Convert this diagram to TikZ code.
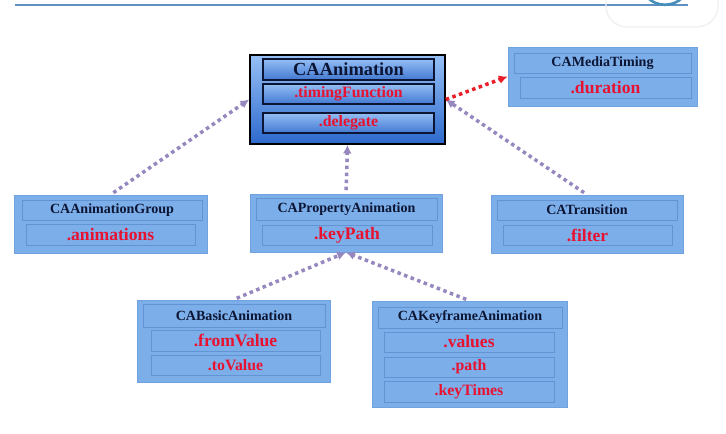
\documentclass[tikz,border=0pt]{standalone}
\usepackage{fontspec}
\setmainfont{Liberation Serif}
\newfontfamily\serifo{Liberation Serif}
\usetikzlibrary{arrows.meta}
\definecolor{BoxBlue}{RGB}{124,174,234}
\definecolor{RowLine}{RGB}{98,148,212}
\definecolor{MainTop}{RGB}{150,192,245}
\definecolor{MainBot}{RGB}{45,105,205}
\definecolor{DeepNavy}{RGB}{12,22,52}
\definecolor{FieldRed}{RGB}{232,18,48}
\definecolor{LinkGray}{RGB}{150,135,190}
\definecolor{LinkRed}{RGB}{232,30,40}
\definecolor{HeadBlue}{RGB}{95,145,195}

\begin{document}
\begin{tikzpicture}[x=0.02cm, y=-0.02cm,
    caja/.style={draw=RowLine!45!BoxBlue, fill=BoxBlue, inner sep=0pt},
    fila/.style={draw=RowLine, fill=BoxBlue, inner sep=0pt},
    principal/.style={draw=black, line width=0.9pt, top color=MainTop, bottom color=MainBot, inner sep=0pt},
    filaP/.style={draw=DeepNavy, line width=0.7pt, top color=MainTop!90!BoxBlue, bottom color=MainBot!90!white, inner sep=0pt},
    titulo/.style={font=\serifo\fontsize{8}{9}\selectfont\bfseries, text=DeepNavy},
    campo/.style={font=\serifo\fontsize{10}{11}\selectfont\bfseries, text=FieldRed},
    campob/.style={font=\serifo\fontsize{9}{10}\selectfont\bfseries, text=FieldRed},
    enlace/.style={LinkGray, line width=2pt, dash pattern=on 2pt off 2pt, shorten <=2pt, -{Latex[length=5pt,width=5pt]}},
    enlaceRojo/.style={LinkRed, line width=2pt, dash pattern=on 2pt off 2pt, -{Latex[length=5pt,width=5pt]}}]
    \useasboundingbox (0,0) rectangle (726,433);

    % Cabecera
    \draw[HeadBlue, line width=1.7pt] (15,5) -- (688,5);
    \draw[gray!12, line width=0.8pt, rounded corners=12pt] (606,-20) -- (606,27) -- (718,27) -- (718,-20);
    \draw[RowLine!70!teal, line width=1.5pt] (648,-2) .. controls (657,7) and (673,7) .. (682,-2);

    % Nodos
    \node[principal, minimum width=3.9cm, minimum height=1.78cm] (anim) at (347.5,99.5) {};
    \node[filaP, minimum width=3.42cm, minimum height=0.42cm, font=\serifo\fontsize{10.5}{12}\selectfont\bfseries, text=DeepNavy] (animT) at (348.5,69.5) {CAAnimation};
    \node[filaP, minimum width=3.42cm, minimum height=0.40cm, campob] (animF) at (348.5,94) {.timingFunction};
    \node[filaP, minimum width=3.42cm, minimum height=0.40cm, campob] (animD) at (348.5,123) {.delegate};

    \node[caja, minimum width=3.78cm, minimum height=1.18cm] (media) at (602.5,76.5) {};
    \node[fila, minimum width=3.54cm, minimum height=0.40cm, titulo] (mediaT) at (602.5,63) {CAMediaTiming};
    \node[fila, minimum width=3.42cm, minimum height=0.42cm, campo] (mediaD) at (605.5,87.5) {.duration};

    \node[caja, minimum width=3.86cm, minimum height=1.16cm] (group) at (110.5,224) {};
    \node[fila, minimum width=3.6cm, minimum height=0.40cm, titulo] (groupT) at (112,210) {CAAnimationGroup};
    \node[fila, minimum width=3.38cm, minimum height=0.42cm, campo] (groupA) at (110.5,234.5) {.animations};

    \node[caja, minimum width=3.84cm, minimum height=1.16cm] (prop) at (346,223) {};
    \node[fila, minimum width=3.62cm, minimum height=0.44cm, titulo] (propT) at (346.5,209) {CAPropertyAnimation};
    \node[fila, minimum width=3.4cm, minimum height=0.40cm, campo] (propK) at (347,235) {.keyPath};

    \node[caja, minimum width=3.84cm, minimum height=1.16cm] (trans) at (587,224) {};
    \node[fila, minimum width=3.6cm, minimum height=0.40cm, titulo] (transT) at (587,210) {CATransition};
    \node[fila, minimum width=3.38cm, minimum height=0.40cm, campo] (transF) at (587.5,235) {.filter};

    \node[caja, minimum width=3.86cm, minimum height=1.64cm] (basic) at (233.5,341) {};
    \node[fila, minimum width=3.64cm, minimum height=0.46cm, titulo] (basicT) at (234,315.5) {CABasicAnimation};
    \node[fila, minimum width=3.38cm, minimum height=0.42cm, campo] (basicF) at (235.5,340.5) {.fromValue};
    \node[fila, minimum width=3.38cm, minimum height=0.40cm, campob] (basicV) at (235.5,365) {.toValue};

    \node[caja, minimum width=3.9cm, minimum height=2.12cm] (key) at (469.5,354) {};
    \node[fila, minimum width=3.68cm, minimum height=0.42cm, titulo] (keyT) at (470,317.5) {CAKeyframeAnimation};
    \node[fila, minimum width=3.4cm, minimum height=0.40cm, campo] (keyV) at (469,342) {.values};
    \node[fila, minimum width=3.4cm, minimum height=0.40cm, campob] (keyP) at (469,367) {.path};
    \node[fila, minimum width=3.4cm, minimum height=0.42cm, campob] (keyK) at (469,391.5) {.keyTimes};

    % Conexiones
    \draw[enlace] (group.north) -- (anim.west);
    \draw[enlace] (prop.north) -- (anim.south);
    \draw[enlace] (trans.north) -- (anim.east);
    \draw[enlaceRojo] (anim.east) -- (media.west);
    \draw[enlace] (basic.north) -- (prop.south);
    \draw[enlace] (key.north) -- (prop.south);
\end{tikzpicture}
\end{document}
